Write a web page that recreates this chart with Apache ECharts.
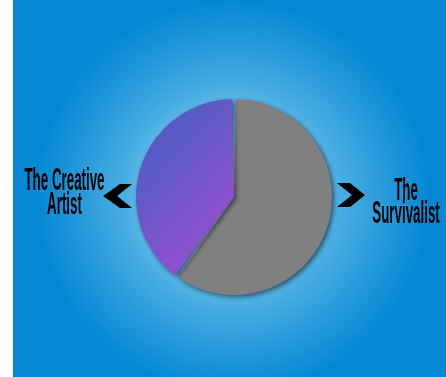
<!DOCTYPE html>
<html><head><meta charset="utf-8">
<script src="https://cdn.jsdelivr.net/npm/echarts@6/dist/echarts.min.js"></script>
<style>html,body{margin:0;padding:0;background:#fff}#c{width:446px;height:377px}</style>
</head><body><div id="c"></div>
<script>
const categories = ['The Survivalist', 'The Creative Artist'];
const values = [60, 40];
const leftLabel = ['The Creative', 'Artist'];
const rightLabel = ['The', 'Survivalist'];

const chart = echarts.init(document.getElementById('c'), null, {renderer: 'canvas'});
const labelFont = 'bold 29px "Liberation Sans", sans-serif';
chart.setOption({
  animation: false,
  backgroundColor: '#ffffff',
  graphic: [
    {type: 'rect', z: -10, shape: {x: 13, y: 0, width: 433, height: 377},
     style: {fill: {type: 'radial', x: 0.508, y: 0.523, r: 0.52, colorStops: [
       {offset: 0, color: '#c2e7f9'}, {offset: 0.35, color: '#82cbf0'},
       {offset: 0.55, color: '#4aaee3'}, {offset: 0.8, color: '#2398da'}, {offset: 1, color: '#0588d4'}]}}},
    {type: 'text', x: 64.5, y: 193.5, scaleX: 0.46, scaleY: 1.1, z: 10,
     style: {text: leftLabel.join('\n'), font: labelFont, fill: '#000', align: 'center', verticalAlign: 'middle', lineHeight: 22}},
    {type: 'text', x: 406, y: 202.5, scaleX: 0.46, scaleY: 1.1, z: 10,
     style: {text: rightLabel.join('\n'), font: labelFont, fill: '#000', align: 'center', verticalAlign: 'middle', lineHeight: 20.5}},
    {type: 'polygon', z: 10, shape: {points: [[120,184],[132,184],[117,196],[132,208],[120,208],[103,196]]},
     style: {fill: '#000'}},
    {type: 'polygon', z: 10, shape: {points: [[337,183],[350,183],[365,195],[350,207],[337,207],[352,195]]},
     style: {fill: '#000'}}
  ],
  series: [{
    type: 'pie',
    center: [234, 197],
    radius: [0, 98],
    startAngle: 90,
    clockwise: true,
    padAngle: 2.2,
    label: {show: false},
    labelLine: {show: false},
    emphasis: {disabled: true},
    itemStyle: {shadowBlur: 5, shadowOffsetX: 2, shadowOffsetY: 2, shadowColor: 'rgba(0,0,0,0.55)'},
    data: [
      {name: categories[0], value: values[0], itemStyle: {color: '#808080'}},
      {name: categories[1], value: values[1], itemStyle: {color: {type: 'linear', x: 0, y: 0, x2: 1, y2: 0.5,
        colorStops: [{offset: 0, color: '#4a5cc0'}, {offset: 0.5, color: '#5f5ac6'}, {offset: 1, color: '#8852cc'}]}}}
    ]
  }]
});
</script></body></html>
